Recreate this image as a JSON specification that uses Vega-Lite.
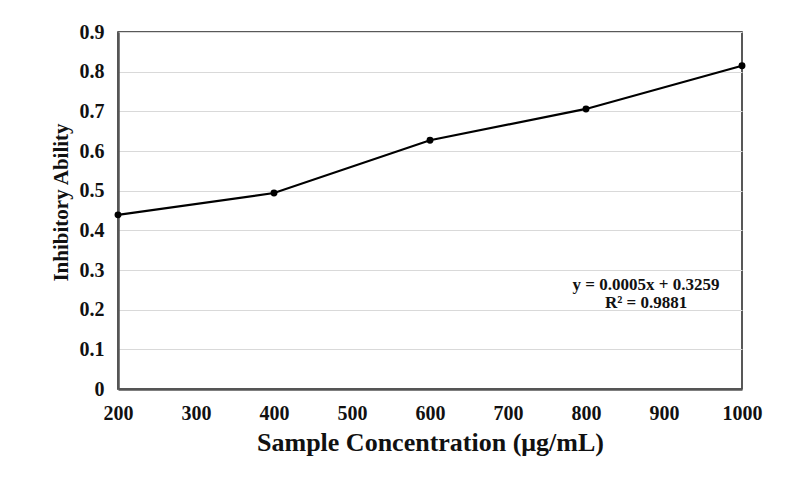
{
  "$schema": "https://vega.github.io/schema/vega-lite/v6.json",
  "width": 624,
  "height": 357,
  "autosize": {"type": "none"},
  "padding": {"left": 118, "top": 32, "right": 59, "bottom": 88},
  "background": "white",
  "config": {
    "font": "Liberation Serif",
    "view": {"stroke": "#222222", "strokeWidth": 1.5},
    "axis": {
      "labelFont": "Liberation Serif",
      "labelFontWeight": "bold",
      "labelFontSize": 20,
      "labelColor": "#111111",
      "labelOverlap": false,
      "titleFont": "Liberation Serif",
      "titleFontWeight": "bold",
      "titleColor": "#111111",
      "ticks": false,
      "domainColor": "#555555",
      "domainWidth": 2.5,
      "gridColor": "#d9d9d9",
      "gridWidth": 1
    }
  },
  "datasets": {
    "inhibition": [
      {"concentration": 200, "ability": 0.439},
      {"concentration": 400, "ability": 0.494},
      {"concentration": 600, "ability": 0.627},
      {"concentration": 800, "ability": 0.706},
      {"concentration": 1000, "ability": 0.815}
    ],
    "fit": [
      {"concentration": 877, "ability": 0.262, "label": "y = 0.0005x + 0.3259"},
      {"concentration": 877, "ability": 0.217, "label": "R² = 0.9881"}
    ]
  },
  "encoding": {
    "x": {
      "field": "concentration",
      "type": "quantitative",
      "scale": {"domain": [200, 1000], "nice": false},
      "axis": {"title": "Sample Concentration (μg/mL)", "titleFontSize": 26, "values": [200, 300, 400, 500, 600, 700, 800, 900, 1000], "format": "d", "grid": false, "labelPadding": 14, "titlePadding": 6, "labelFlush": false}
    },
    "y": {
      "field": "ability",
      "type": "quantitative",
      "scale": {"domain": [0, 0.9], "nice": false},
      "axis": {"title": "Inhibitory Ability", "titleFontSize": 21, "titleY": 170, "values": [0, 0.1, 0.2, 0.3, 0.4, 0.5, 0.6, 0.7, 0.8, 0.9], "format": "~g", "labelPadding": 14, "titlePadding": 8}
    }
  },
  "layer": [
    {
      "data": {"name": "inhibition"},
      "mark": {"type": "line", "color": "#000000", "strokeWidth": 2.2, "point": {"filled": true, "color": "#000000", "size": 48}}
    },
    {
      "data": {"name": "fit"},
      "mark": {"type": "text", "font": "Liberation Serif", "fontWeight": "bold", "fontSize": 17, "color": "#111111", "align": "center", "baseline": "middle"},
      "encoding": {
        "text": {"field": "label"}
      }
    }
  ]
}
